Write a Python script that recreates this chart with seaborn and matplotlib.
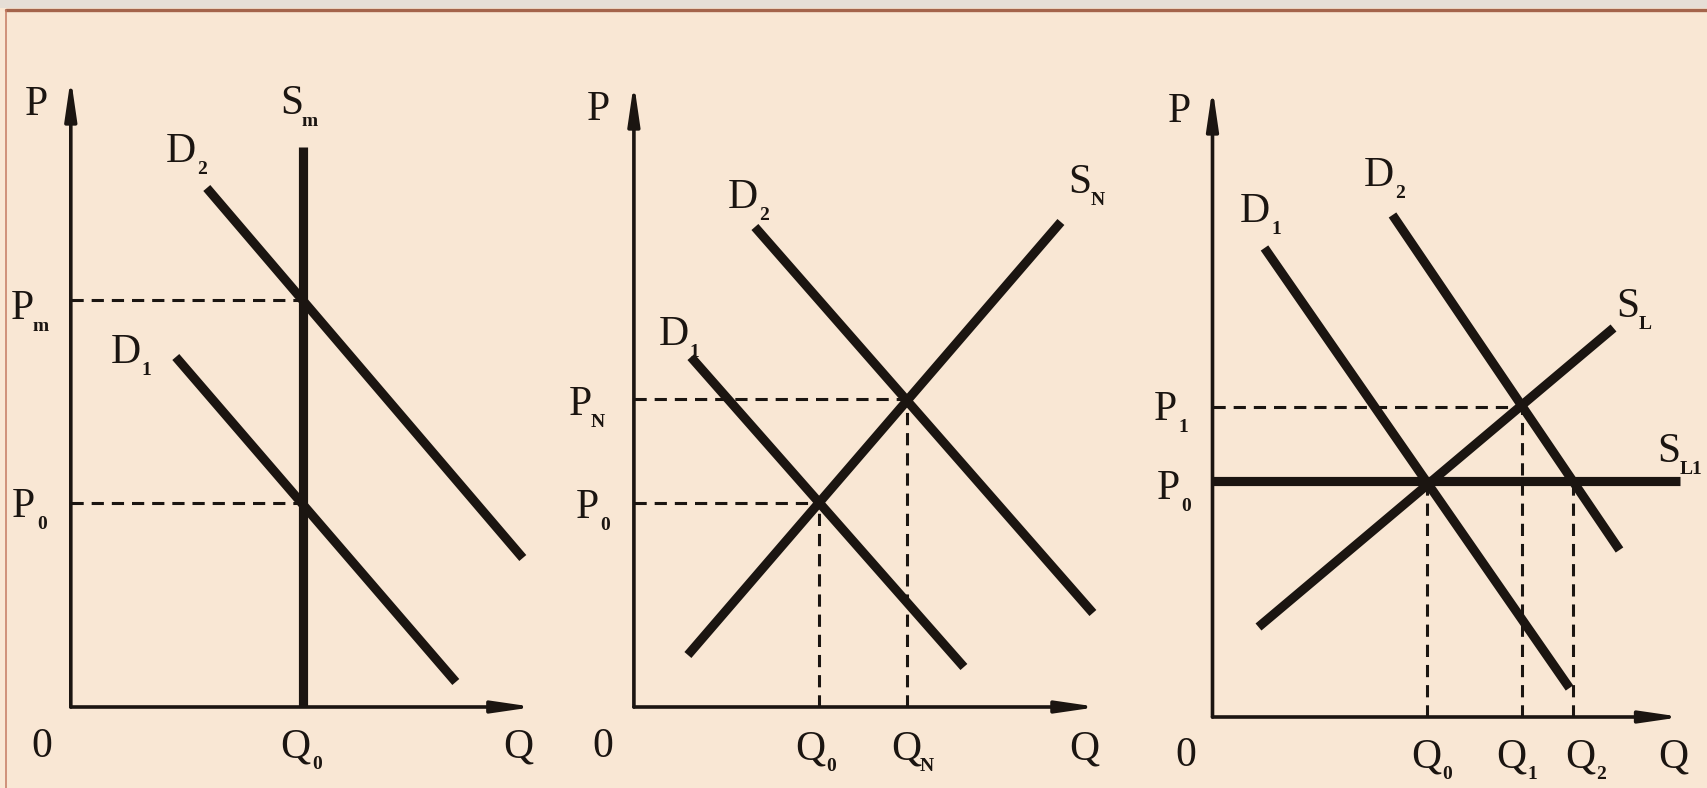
import matplotlib
matplotlib.use("Agg")
import matplotlib.pyplot as plt
from matplotlib.lines import Line2D
from matplotlib.patches import Rectangle
import pandas as pd
import seaborn as sns

W, H = 1708, 788
PAPER = "#f9e7d4"
INK = "#1b1511"

# ---- panel 1: fixed market supply S_m ----
p1_d1_q = [10.5, 38.5]
p1_d1_p = [35.0, 2.5]
p1_d2_q = [13.6, 45.2]
p1_d2_p = [51.9, 14.9]
p1_sm_q = [23.2, 23.2]
p1_sm_p = [0.0, 56.0]
p1_q_eq = [23.2, 23.2]      # Q0 for Pm, P0
p1_p_eq = [40.7, 20.4]      # Pm, P0

# ---- panel 2: upward sloping supply S_N ----
p2_d1_q = [5.7, 33.0]
p2_d1_p = [35.0, 4.0]
p2_d2_q = [12.1, 45.9]
p2_d2_p = [48.0, 9.4]
p2_s_q = [5.4, 42.7]
p2_s_p = [5.2, 48.5]
p2_q_eq = [18.5, 27.3]      # Q0, QN
p2_p_eq = [20.4, 30.8]      # P0, PN

# ---- panel 3: short run S_L and long run S_L1 ----
p3_d1_q = [5.2, 35.7]
p3_d1_p = [46.9, 2.9]
p3_d2_q = [18.0, 40.7]
p3_d2_p = [50.2, 16.7]
p3_sl_q = [4.6, 40.1]
p3_sl_p = [9.0, 38.9]
p3_sl1_q = [0.0, 46.7]
p3_sl1_p = [23.6, 23.6]
p3_q_eq = [21.4, 30.9, 36.0]   # Q0, Q1, Q2
p3_p_eq = [23.6, 31.0, 23.6]   # P0, P1, P0

# labels: (letter, subscript, q, p)
p1_labels = [("P", "", -3.4, 60.7), ("S", "m", 22.1, 60.8), ("D", "2", 11.0, 56.0),
             ("D", "1", 5.5, 35.9), ("P", "m", -4.8, 40.3), ("P", "0", -4.7, 20.5),
             ("0", "", -2.9, -3.5), ("Q", "0", 22.5, -3.5), ("Q", "", 44.8, -3.5)]
p2_labels = [("P", "", -3.6, 60.2), ("D", "2", 10.9, 51.4), ("S", "N", 44.6, 52.9),
             ("D", "1", 4.0, 37.7), ("P", "N", -5.4, 30.7), ("P", "0", -4.7, 20.4),
             ("0", "", -3.1, -3.5), ("Q", "0", 17.6, -3.7), ("Q", "N", 27.2, -3.7),
             ("Q", "", 45.0, -3.7)]
p3_labels = [("P", "", -3.3, 61.0), ("D", "2", 16.65, 54.6), ("D", "1", 4.25, 51.0),
             ("S", "L", 41.5, 41.5), ("S", "L1", 45.6, 27.0), ("P", "1", -4.75, 31.2),
             ("P", "0", -4.4, 23.3), ("0", "", -2.65, -3.4), ("Q", "0", 21.4, -3.5),
             ("Q", "1", 29.85, -3.5), ("Q", "2", 36.75, -3.5), ("Q", "", 46.05, -3.5)]

sns.set_theme(style="white")
plt.rcParams["font.family"] = ["Liberation Serif", "DejaVu Serif"]

DASH = (0, (4, 2.6))
SUB_DX = {"P": 13, "D": 15, "S": 13, "Q": 15}
TEXT_DY = -3.5   # va="center" sits the glyph a little high


def panel_axes(fig, ox, oy, xmax, ymax):
    # ox, oy: pixel position of the origin, 10 px per unit
    ax = fig.add_axes([ox / W, 1 - oy / H, xmax * 10 / W, ymax * 10 / H])
    ax.set_xlim(0, xmax)
    ax.set_ylim(0, ymax)
    ax.axis("off")
    for end in [(xmax, 0), (0, ymax)]:
        ax.annotate("", xy=end, xytext=(0, 0),
                    arrowprops=dict(arrowstyle="-|>,head_length=2.4,head_width=0.35",
                                    lw=2.6, color=INK, shrinkA=0, shrinkB=0,
                                    mutation_scale=10))
    return ax


def draw_curves(ax, curves):
    rows = [dict(curve=name, q=q, p=p)
            for name, (qs, ps) in curves.items() for q, p in zip(qs, ps)]
    df = pd.DataFrame(rows)
    sns.lineplot(data=df, x="q", y="p", units="curve", estimator=None, sort=False,
                 color=INK, lw=6.6, solid_capstyle="butt", clip_on=False,
                 legend=False, ax=ax)


def guides(ax, qs, ps, horiz=True, vert=True):
    for q, p in zip(qs, ps):
        if horiz:
            ax.plot([0, q], [p, p], ls=DASH, lw=2.2, color=INK)
        if vert:
            ax.plot([q, q], [0, p], ls=DASH, lw=2.2, color=INK)


def labels(ax, items):
    for main, sub, q, p in items:
        ax.annotate(main, xy=(q, p), xytext=(0, TEXT_DY), textcoords="offset points",
                    ha="center", va="center", fontsize=30, color=INK,
                    annotation_clip=False)
        if sub:
            dx = SUB_DX[main] + 3 * (len(sub) - 1)
            ax.annotate(sub, xy=(q, p), xytext=(dx, TEXT_DY - 13),
                        textcoords="offset points", ha="center", va="center",
                        fontsize=14, fontweight="bold", color=INK,
                        annotation_clip=False)


fig = plt.figure(figsize=(W / 100, H / 100), dpi=100, facecolor=PAPER)

# frame of the slide
fig.add_artist(Rectangle((0, 1 - 8 / H), 1, 8 / H, transform=fig.transFigure,
                         facecolor="#e6ded6", edgecolor="none"))
fig.add_artist(Line2D([6 / W, 1], [1 - 9.5 / H] * 2, transform=fig.transFigure,
                      color="#a4644b", lw=2.4))
fig.add_artist(Line2D([6 / W] * 2, [0, 1 - 9.5 / H], transform=fig.transFigure,
                      color="#c47a62", lw=1.1))

ax1 = panel_axes(fig, 70.8, 707, 46.3, 62.9)
guides(ax1, p1_q_eq, p1_p_eq, vert=False)
draw_curves(ax1, {"D1": (p1_d1_q, p1_d1_p), "D2": (p1_d2_q, p1_d2_p),
                  "Sm": (p1_sm_q, p1_sm_p)})
labels(ax1, p1_labels)

ax2 = panel_axes(fig, 633.9, 707, 46.4, 62.4)
guides(ax2, p2_q_eq, p2_p_eq)
draw_curves(ax2, {"D1": (p2_d1_q, p2_d1_p), "D2": (p2_d2_q, p2_d2_p),
                  "S": (p2_s_q, p2_s_p)})
labels(ax2, p2_labels)

ax3 = panel_axes(fig, 1212.5, 717, 46.9, 62.9)
guides(ax3, p3_q_eq[1:2], p3_p_eq[1:2], vert=False)
guides(ax3, p3_q_eq, p3_p_eq, horiz=False)
draw_curves(ax3, {"D1": (p3_d1_q, p3_d1_p), "D2": (p3_d2_q, p3_d2_p),
                  "SL": (p3_sl_q, p3_sl_p), "SL1": (p3_sl1_q, p3_sl1_p)})
labels(ax3, p3_labels)

fig.savefig("out.png", dpi=100, facecolor=PAPER)
